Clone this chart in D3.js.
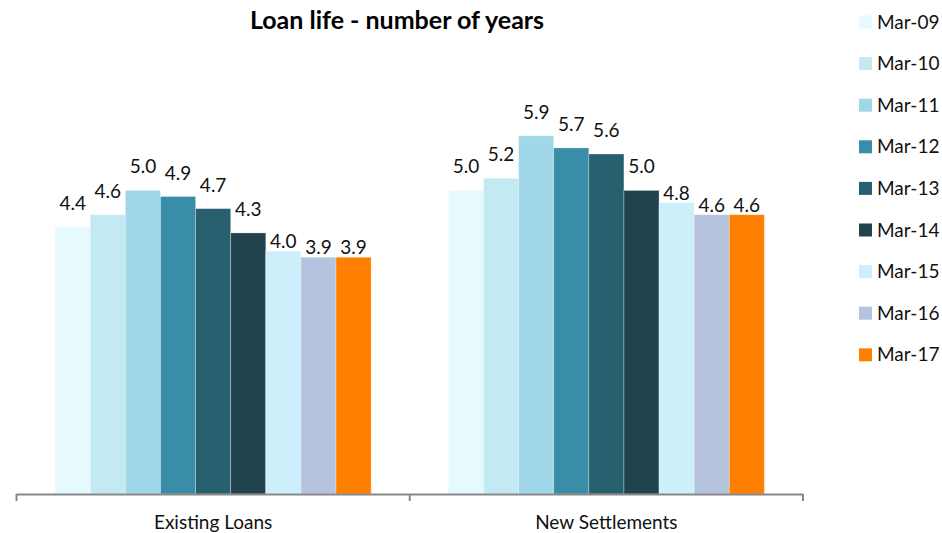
<!DOCTYPE html>
<html>
<head>
<meta charset="utf-8">
<script src="https://cdn.jsdelivr.net/npm/d3@7"></script>
<style>
  html, body { margin: 0; padding: 0; background: #fff; }
  svg { display: block; font-family: Lato, "Open Sans", sans-serif; }
</style>
</head>
<body>
<svg id="chart" width="942" height="533"></svg>
<script>
// Loan life, in years, by loan type and reporting period
const categories = ["Existing Loans", "New Settlements"];
const periods = ["Mar-09", "Mar-10", "Mar-11", "Mar-12", "Mar-13", "Mar-14", "Mar-15", "Mar-16", "Mar-17"];
const existingLoans = [4.4, 4.6, 5.0, 4.9, 4.7, 4.3, 4.0, 3.9, 3.9];
const newSettlements = [5.0, 5.2, 5.9, 5.7, 5.6, 5.0, 4.8, 4.6, 4.6];
const colors = ["#e6fafd", "#c3eaf2", "#a0d8ea", "#3a8da8", "#28606f", "#21434e", "#cdeffb", "#b5c3de", "#ff8000"];

const seriesByCategory = [existingLoans, newSettlements];

const svg = d3.select("#chart");
const margin = { left: 16.5, right: 139, top: 69, bottom: 39 };
const W = 942, H = 533;
const baseY = H - margin.bottom;

const x0 = d3.scaleBand()
  .domain(categories)
  .range([margin.left, W - margin.right])
  .paddingInner(0)
  .paddingOuter(0);

const x1 = d3.scaleBand()
  .domain(periods)
  .range([0, x0.bandwidth()])
  .paddingOuter(1.1)
  .paddingInner(0);

const y = d3.scaleLinear().domain([0, 7]).range([baseY, margin.top]);

// Bars
const groups = svg.append("g")
  .selectAll("g")
  .data(categories)
  .join("g")
  .attr("transform", d => `translate(${x0(d)},0)`);

groups.selectAll("rect")
  .data((c, i) => periods.map((p, j) => ({ p, j, v: seriesByCategory[i][j] })))
  .join("rect")
  .attr("x", d => x1(d.p))
  .attr("y", d => y(d.v))
  .attr("width", x1.bandwidth())
  .attr("height", d => baseY - y(d.v))
  .attr("fill", d => colors[d.j])
  .attr("stroke", "rgba(255,255,255,0.35)")
  .attr("stroke-width", 0.8);

// Value labels: the last three series sit close to their bars
groups.selectAll("text.val")
  .data((c, i) => periods.map((p, j) => ({ p, j, v: seriesByCategory[i][j] })))
  .join("text")
  .attr("class", "val")
  .attr("x", d => x1(d.p) + x1.bandwidth() / 2)
  .attr("y", d => y(d.v) - (d.j >= 6 ? 3 : 17))
  .attr("text-anchor", "middle")
  .attr("font-size", 19)
  .attr("fill", "#111")
  .text(d => d3.format(".1f")(d.v));

// Category axis
const axisColor = "#888";
svg.append("line")
  .attr("x1", x0.range()[0]).attr("x2", x0.range()[1])
  .attr("y1", baseY + 0.5).attr("y2", baseY + 0.5)
  .attr("stroke", axisColor).attr("stroke-width", 2);

const boundaries = [x0.range()[0], ...categories.slice(1).map(c => x0(c)), x0.range()[1]];
svg.selectAll("line.sep")
  .data(boundaries)
  .join("line")
  .attr("class", "sep")
  .attr("x1", d => d).attr("x2", d => d)
  .attr("y1", baseY).attr("y2", baseY + 7)
  .attr("stroke", axisColor).attr("stroke-width", 2);

svg.selectAll("text.cat")
  .data(categories)
  .join("text")
  .attr("class", "cat")
  .attr("x", d => x0(d) + x0.bandwidth() / 2)
  .attr("y", 529)
  .attr("text-anchor", "middle")
  .attr("font-size", 19)
  .attr("fill", "#111")
  .text(d => d);

// Title
svg.append("text")
  .attr("x", 397)
  .attr("y", 29)
  .attr("text-anchor", "middle")
  .attr("font-size", 25)
  .attr("font-weight", "bold")
  .attr("fill", "#000")
  .text("Loan life - number of years");

// Legend
const legend = svg.append("g")
  .selectAll("g")
  .data(periods)
  .join("g")
  .attr("transform", (d, i) => `translate(859,${22 + i * 41.6})`);

legend.append("rect")
  .attr("x", 0).attr("y", -6.5)
  .attr("width", 13).attr("height", 13)
  .attr("fill", (d, i) => colors[i]);

legend.append("text")
  .attr("x", 18)
  .attr("y", 0)
  .attr("dy", "0.35em")
  .attr("font-size", 19)
  .attr("fill", "#111")
  .text(d => d);
</script>
</body>
</html>
